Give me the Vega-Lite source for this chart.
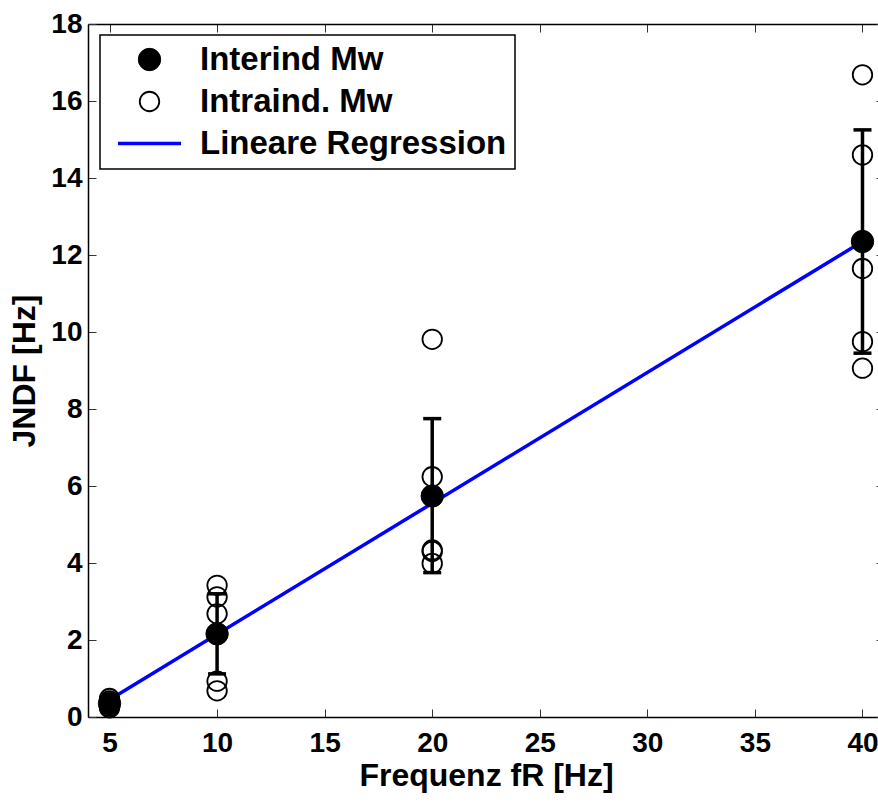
{
  "$schema": "https://vega.github.io/schema/vega-lite/v6.json",
  "width": 796,
  "height": 693,
  "autosize": {"type": "none"},
  "padding": {"left": 88, "top": 24, "right": 0, "bottom": 88},
  "background": "white",
  "datasets": {
    "pts": [
      {"f": 5, "jndf": 0.48, "series": "Intraind. Mw"},
      {"f": 5, "jndf": 0.42, "series": "Intraind. Mw"},
      {"f": 5, "jndf": 0.33, "series": "Intraind. Mw"},
      {"f": 5, "jndf": 0.28, "series": "Intraind. Mw"},
      {"f": 5, "jndf": 0.24, "series": "Intraind. Mw"},
      {"f": 10, "jndf": 3.42, "series": "Intraind. Mw"},
      {"f": 10, "jndf": 3.12, "series": "Intraind. Mw"},
      {"f": 10, "jndf": 2.68, "series": "Intraind. Mw"},
      {"f": 10, "jndf": 0.93, "series": "Intraind. Mw"},
      {"f": 10, "jndf": 0.68, "series": "Intraind. Mw"},
      {"f": 20, "jndf": 9.81, "series": "Intraind. Mw"},
      {"f": 20, "jndf": 6.24, "series": "Intraind. Mw"},
      {"f": 20, "jndf": 4.34, "series": "Intraind. Mw"},
      {"f": 20, "jndf": 4.3, "series": "Intraind. Mw"},
      {"f": 20, "jndf": 3.99, "series": "Intraind. Mw"},
      {"f": 40, "jndf": 16.68, "series": "Intraind. Mw"},
      {"f": 40, "jndf": 14.6, "series": "Intraind. Mw"},
      {"f": 40, "jndf": 11.65, "series": "Intraind. Mw"},
      {"f": 40, "jndf": 9.75, "series": "Intraind. Mw"},
      {"f": 40, "jndf": 9.06, "series": "Intraind. Mw"},
      {"f": 5, "jndf": 0.35, "lo": 0.22, "hi": 0.48, "series": "Interind Mw"},
      {"f": 10, "jndf": 2.16, "lo": 1.12, "hi": 3.2, "series": "Interind Mw"},
      {"f": 20, "jndf": 5.74, "lo": 3.75, "hi": 7.75, "series": "Interind Mw"},
      {"f": 40, "jndf": 12.35, "lo": 9.45, "hi": 15.25, "series": "Interind Mw"}
    ],
    "reg": [
      {"f": 5, "jndf": 0.45},
      {"f": 40, "jndf": 12.35}
    ]
  },
  "config": {
    "font": "Liberation Sans",
    "view": {"stroke": null},
    "axis": {
      "grid": false,
      "domainColor": "black",
      "domainWidth": 1.5,
      "tickColor": "#333333",
      "tickWidth": 1,
      "tickSize": -8,
      "labelFont": "Liberation Sans",
      "labelFontSize": 28,
      "labelFontWeight": "bold",
      "labelColor": "black",
      "titleFont": "Liberation Sans",
      "titleFontSize": 32,
      "titleFontWeight": "bold",
      "titleColor": "black"
    },
    "legend": {
      "orient": "none",
      "legendX": 12,
      "legendY": 11,
      "padding": 8,
      "symbolOffset": 25,
      "labelOffset": 34,
      "rowPadding": 8,
      "labelFont": "Liberation Sans",
      "labelFontSize": 33,
      "labelFontWeight": "bold",
      "labelColor": "black",
      "strokeColor": "black",
      "strokeWidth": 1.5,
      "fillColor": "white",
      "labelLimit": 500
    }
  },
  "resolve": {"axis": {"x": "independent", "y": "independent"}},
  "layer": [
    {
      "data": {"name": "reg"},
      "mark": {"type": "line", "color": "#0000ff", "strokeWidth": 3.5},
      "encoding": {
        "x": {
          "field": "f", "type": "quantitative",
          "scale": {"domain": [4, 41], "nice": false, "zero": false},
          "axis": {"orient": "bottom", "values": [5, 10, 15, 20, 25, 30, 35, 40], "title": "Frequenz fR [Hz]", "labelPadding": 20, "titlePadding": 3}
        },
        "y": {
          "field": "jndf", "type": "quantitative",
          "scale": {"domain": [0, 18], "nice": false, "zero": false},
          "axis": {"orient": "left", "values": [0, 2, 4, 6, 8, 10, 12, 14, 16, 18], "title": "JNDF [Hz]", "labelPadding": 14, "titlePadding": 9}
        }
      }
    },
    {
      "data": {"name": "pts"},
      "transform": [{"filter": "datum.series === 'Interind Mw'"}],
      "mark": {"type": "rule", "color": "black", "strokeWidth": 3.5},
      "encoding": {
        "x": {
          "field": "f", "type": "quantitative",
          "axis": {"orient": "top", "values": [5, 10, 15, 20, 25, 30, 35, 40], "labels": false, "title": null}
        },
        "y": {
          "field": "lo", "type": "quantitative",
          "axis": {"orient": "right", "values": [0, 2, 4, 6, 8, 10, 12, 14, 16, 18], "labels": false, "title": null}
        },
        "y2": {"field": "hi"}
      }
    },
    {
      "data": {"name": "pts"},
      "transform": [{"filter": "datum.series === 'Interind Mw'"}],
      "layer": [
        {
          "mark": {"type": "tick", "orient": "horizontal", "color": "black", "size": 18, "thickness": 3.5, "opacity": 1},
          "encoding": {
            "x": {"field": "f", "type": "quantitative", "axis": null},
            "y": {"field": "lo", "type": "quantitative", "axis": null}
          }
        },
        {
          "mark": {"type": "tick", "orient": "horizontal", "color": "black", "size": 18, "thickness": 3.5, "opacity": 1},
          "encoding": {
            "x": {"field": "f", "type": "quantitative", "axis": null},
            "y": {"field": "hi", "type": "quantitative", "axis": null}
          }
        }
      ]
    },
    {
      "data": {"name": "pts"},
      "mark": {"type": "point", "shape": "circle", "opacity": 1},
      "encoding": {
        "x": {"field": "f", "type": "quantitative", "axis": null},
        "y": {"field": "jndf", "type": "quantitative", "axis": null},
        "order": {"field": "series", "sort": "descending"},
        "shape": {
          "field": "series", "type": "nominal",
          "scale": {"domain": ["Interind Mw", "Intraind. Mw", "Lineare Regression"], "range": ["circle", "circle", "M-3,0H3"]},
          "legend": {"title": null}
        },
        "fill": {
          "field": "series", "type": "nominal",
          "scale": {"domain": ["Interind Mw", "Intraind. Mw", "Lineare Regression"], "range": ["black", "transparent", "transparent"]},
          "legend": {"title": null}
        },
        "stroke": {
          "field": "series", "type": "nominal",
          "scale": {"domain": ["Interind Mw", "Intraind. Mw", "Lineare Regression"], "range": ["black", "black", "#0000ff"]},
          "legend": {"title": null}
        },
        "size": {
          "field": "series", "type": "nominal",
          "scale": {"type": "ordinal", "domain": ["Interind Mw", "Intraind. Mw", "Lineare Regression"], "range": [500, 380, 441]},
          "legend": {"title": null}
        },
        "strokeWidth": {
          "field": "series", "type": "nominal",
          "scale": {"type": "ordinal", "domain": ["Interind Mw", "Intraind. Mw", "Lineare Regression"], "range": [1, 1.8, 3.5]},
          "legend": {"title": null}
        }
      }
    }
  ]
}
